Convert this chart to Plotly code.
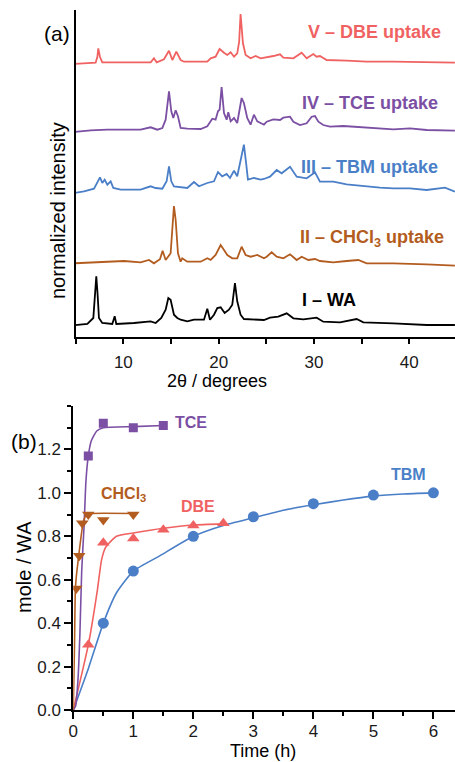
import plotly.graph_objects as go

W, H = 455, 762

# ---------------- panel (a): XRD patterns (stacked, offset included) ----------------
wa_2theta = [4.82, 6.22, 6.85, 7.02, 7.16, 7.30, 7.44, 7.79, 8.84, 9.09, 9.26, 11.12, 12.86, 13.39,
             13.98, 14.44, 14.72, 14.96, 15.31, 15.66, 16.01, 16.71, 17.41, 18.46, 18.81, 19.09,
             19.51, 19.86, 20.21, 20.63, 21.08, 21.43, 21.71, 21.95, 22.30, 22.65, 24.05, 24.75,
             25.39, 26.26, 27.14, 27.84, 28.89, 30.28, 30.98, 32.73, 34.48, 35.18, 38.33, 40.07,
             41.82, 44.79]
wa_int = [11.7, 13, 19, 42.3, 60.7, 42.3, 19, 14, 13, 20.7, 13, 14, 15.7, 14,
          19, 27.3, 39, 37.3, 22.3, 19, 17.3, 15.7, 17.3, 17.3, 28.3, 17.3,
          22.3, 29, 29.7, 24, 27.3, 32.3, 54, 35.7, 22.3, 18, 17.3, 17,
          19.3, 20.3, 23.7, 18.7, 17.7, 19.3, 15.3, 14.7, 18, 14.7, 13.7, 12.7,
          12, 12]

chcl3_2theta = [4.82, 6.57, 8.32, 10.07, 11.81, 12.69, 13.21, 13.84, 14.12, 14.44, 14.96, 15.21,
                15.31, 15.49, 15.73, 16.01, 16.18, 16.71, 18.11, 18.81, 19.16, 19.68, 20.21, 20.56,
                20.91, 21.43, 21.95, 22.41, 22.83, 23.35, 24.05, 24.75, 25.04, 25.56, 26.09, 26.79,
                27.49, 28.19, 28.71, 29.41, 30.11, 30.63, 32.03, 33.43, 34.65, 35.53, 38.33, 41.82,
                44.79]
chcl3_int = [73.7, 74.7, 75.3, 76, 74.7, 77, 73.7, 77.7, 86.3, 77, 83.7, 117,
             131, 117, 83.7, 75.3, 78.7, 75.3, 75.3, 78.7, 77, 82, 92, 87,
             82, 78.7, 78.7, 90.3, 82, 80.3, 82, 78.7, 80.3, 84.7, 80.3, 78.7,
             82.7, 77, 80.3, 77, 78, 76, 74.7, 76, 77, 73.7, 73.7, 72.7,
             71.3]

tbm_2theta = [4.82, 5.87, 6.92, 7.27, 7.55, 7.79, 8.04, 8.32, 8.67, 8.95, 9.72, 11.81, 12.86,
              13.39, 14.09, 14.54, 14.79, 15.03, 15.31, 16.71, 17.41, 17.93, 18.81, 19.51, 19.93,
              20.38, 20.84, 21.19, 21.61, 21.95, 22.30, 22.65, 22.90, 23.07, 23.70, 24.40, 24.75,
              25.39, 26.09, 26.61, 27.49, 28.19, 29.24, 30.11, 30.63, 32.03, 33.43, 34.83, 35.88,
              36.93, 38.33, 40.07, 41.82, 43.75, 44.79]
tbm_int = [144, 145.7, 148.3, 154, 159.7, 154, 157.3, 152.3, 155.7, 149, 147.3, 147.3, 150.7,
           149, 148.3, 155.7, 170.7, 155.7, 150.7, 149, 155, 150.7, 154, 155.7, 165,
           160.7, 163, 159, 166.3, 160.7, 177.3, 192.3, 172.3, 157.3, 159, 157.3, 158,
           160.3, 167, 163.7, 170.3, 160.3, 158.7, 164.7, 155.3, 155.3, 152.7, 151.3, 150.3,
           149.3, 148.7, 148.7, 147, 149.3, 145.3]

tce_2theta = [4.82, 6.57, 8.32, 11.81, 12.86, 13.56, 14.09, 14.44, 14.79, 15.03, 15.24, 15.49,
              15.73, 16.01, 16.71, 18.11, 18.81, 19.33, 19.68, 19.93, 20.10, 20.31, 20.56, 20.84,
              21.01, 21.26, 21.61, 21.95, 22.41, 22.65, 23.00, 23.35, 23.70, 24.05, 24.75, 25.04,
              25.74, 26.44, 26.79, 27.49, 27.84, 28.54, 29.24, 29.76, 30.11, 30.46, 30.98, 31.68,
              33.08, 34.83, 38.33, 40.07, 41.82, 44.79]
tce_int = [205, 206.7, 207.3, 207.3, 209.7, 207.3, 209, 217.3, 245.7, 225.7, 219, 226.7,
           220.7, 209, 208.3, 208, 210.7, 218.3, 217.3, 225.7, 227.3, 250, 224, 217.3,
           224.7, 215.7, 219, 214, 239, 234, 219, 212.3, 222.3, 215.7, 212.3, 215.3,
           217.7, 217, 219.3, 220.3, 215.3, 212, 213.7, 220.3, 221, 215.3, 212, 210.3,
           211, 209.7, 207.7, 208.7, 207, 206.3]

dbe_2theta = [4.82, 6.22, 7.09, 7.27, 7.37, 7.55, 7.79, 10.0, 12.87, 13.21, 13.5, 14.26, 14.79,
              15.14, 15.56, 16.01, 16.36, 18.81, 19.16, 19.68, 20.10, 20.56, 20.91, 21.26, 21.61,
              21.95, 22.15, 22.30, 22.45, 22.55, 22.83, 23.35, 23.88, 24.40, 25.74, 26.44, 26.79,
              27.84, 28.71, 29.24, 29.93, 30.28, 30.63, 31.33, 33.43, 35.53, 38.33, 41.82, 44.79]
dbe_int = [273, 273.7, 274.3, 280, 288.7, 280, 274.7, 274.7, 274.7, 278.7, 274.7, 277.7, 286.3,
           277, 285.3, 277, 275.3, 275.3, 278.7, 280.3, 288, 284.3, 282, 284.7, 280.3,
           283.7, 295, 323, 300, 293.7, 282, 278.7, 281, 278.7, 281, 282.7, 279.3,
           278.7, 284.3, 278.7, 283, 280.3, 281, 277, 276.3, 275.3, 275.3, 274.7, 274.3]

xrd_labels = ["I – WA", "II – CHCl<sub>3</sub> uptake", "III – TBM uptake",
              "IV – TCE uptake", "V – DBE uptake"]

# ---------------- panel (b): uptake kinetics ----------------
tce_t = [0.25, 0.5, 1.0, 1.5]
tce_v = [1.17, 1.32, 1.30, 1.31]
tce_fit_t = [0.0, 0.04, 0.08, 0.11, 0.14, 0.18, 0.21, 0.25, 0.30, 0.39, 0.5, 1.0, 1.5]
tce_fit_v = [0.0, 0.02, 0.15, 0.35, 0.64, 0.85, 1.05, 1.17, 1.24, 1.285, 1.30, 1.305, 1.31]

chcl3_t = [0.05, 0.1, 0.15, 0.25, 0.5, 1.0]
chcl3_v = [0.56, 0.71, 0.86, 0.90, 0.875, 0.90]
chcl3_fit_t = [0.0, 0.02, 0.035, 0.06, 0.09, 0.13, 0.17, 0.22, 0.3, 1.0]
chcl3_fit_v = [0.0, 0.30, 0.56, 0.64, 0.71, 0.80, 0.87, 0.90, 0.905, 0.905]

dbe_t = [0.25, 0.5, 1.0, 1.5, 2.0, 2.5]
dbe_v = [0.30, 0.77, 0.79, 0.83, 0.85, 0.86]
dbe_fit_t = [0.0, 0.25, 0.4, 0.47, 0.54, 0.72, 1.0, 1.5, 2.0, 2.5]
dbe_fit_v = [0.0, 0.30, 0.55, 0.69, 0.75, 0.80, 0.815, 0.837, 0.852, 0.857]

tbm_t = [0.5, 1.0, 2.0, 3.0, 4.0, 5.0, 6.0]
tbm_v = [0.40, 0.64, 0.80, 0.89, 0.95, 0.99, 1.00]
tbm_fit_t = [0.0, 0.25, 0.5, 0.72, 1.0, 1.44, 2.0, 2.5, 3.0, 3.5, 4.0, 4.5, 5.0, 5.5, 6.0]
tbm_fit_v = [0.0, 0.19, 0.40, 0.54, 0.64, 0.71, 0.80, 0.85, 0.885, 0.92, 0.945, 0.967, 0.985, 0.995, 1.0]

# ---------------- styling ----------------
C_DBE = "#f06262"
C_TCE = "#7b4fa3"
C_TBM = "#4a7fc8"
C_CHCL3 = "#b35c20"
C_WA = "#000000"
FONT = "Liberation Sans, Arial, sans-serif"


def px(x):
    return x / W


def py(y):
    return 1 - y / H


fig = go.Figure()

for xs, ys, c in [(wa_2theta, wa_int, C_WA), (chcl3_2theta, chcl3_int, C_CHCL3),
                  (tbm_2theta, tbm_int, C_TBM), (tce_2theta, tce_int, C_TCE),
                  (dbe_2theta, dbe_int, C_DBE)]:
    fig.add_trace(go.Scatter(x=xs, y=ys, mode="lines", line=dict(color=c, width=1.8),
                             xaxis="x", yaxis="y", hoverinfo="skip"))

for ft, fv, t, v, c, sym in [(tbm_fit_t, tbm_fit_v, tbm_t, tbm_v, C_TBM, "circle"),
                             (dbe_fit_t, dbe_fit_v, dbe_t, dbe_v, C_DBE, "triangle-up"),
                             (tce_fit_t, tce_fit_v, tce_t, tce_v, C_TCE, "square"),
                             (chcl3_fit_t, chcl3_fit_v, chcl3_t, chcl3_v, C_CHCL3, "triangle-down")]:
    fig.add_trace(go.Scatter(x=ft, y=fv, mode="lines",
                             line=dict(color=c, width=1.6, shape="spline", smoothing=0.5),
                             xaxis="x2", yaxis="y2"))
    fig.add_trace(go.Scatter(x=t, y=v, mode="markers",
                             marker=dict(color=c, symbol=sym, size=11 if sym != "square" else 9,
                                         line=dict(width=0)),
                             xaxis="x2", yaxis="y2"))

axis_common = dict(showline=True, linewidth=2, linecolor="black", showgrid=False, zeroline=False,
                   ticks="outside", tickcolor="black", tickwidth=1.5,
                   tickfont=dict(family=FONT, size=17, color="#1a1a1a"), automargin=False)

fig.update_layout(
    width=W, height=H, margin=dict(l=0, r=0, t=0, b=0),
    plot_bgcolor="white", paper_bgcolor="white", showlegend=False,
    xaxis=dict(domain=[px(75.7), 1.0], range=[5, 44.8], anchor="y",
               tickmode="array", tickvals=[10, 20, 30, 40], ticklen=5, ticklabelstandoff=4,
               minor=dict(tick0=0, dtick=5, ticklen=5, ticks="outside", tickcolor="black", showgrid=False),
               **axis_common),
    yaxis=dict(domain=[py(337), py(10)], range=[0, 327], anchor="x",
               showticklabels=False, **{k: v for k, v in axis_common.items() if k != "ticks"}, ticks=""),
    xaxis2=dict(domain=[px(73.3), 1.0], range=[0, 6.36], anchor="y2",
                tickmode="array", tickvals=[0, 1, 2, 3, 4, 5, 6], ticklen=7, ticklabelstandoff=-2,
                minor=dict(tick0=0, dtick=0.5, ticklen=4, ticks="outside", tickcolor="black", showgrid=False),
                **axis_common),
    yaxis2=dict(domain=[py(710), py(406)], range=[0, 1.4], anchor="x2",
                tickmode="array", tickvals=[0, 0.2, 0.4, 0.6, 0.8, 1.0, 1.2],
                ticktext=["0.0", "0.2", "0.4", "0.6", "0.8", "1.0", "1.2"], ticklen=7,
                minor=dict(tick0=0, dtick=0.1, ticklen=4, ticks="outside", tickcolor="black", showgrid=False),
                **axis_common),
)

ann = []


def add_text(text, x, y, size, color="black", bold=False, xanchor="center", angle=0):
    t = f"<b>{text}</b>" if bold else text
    ann.append(dict(text=t, x=px(x), y=py(y), xref="paper", yref="paper", showarrow=False,
                    xanchor=xanchor, yanchor="middle", textangle=angle,
                    font=dict(family=FONT, size=size, color=color)))


# panel (a) labels
label_pos = [(358, 300, C_WA), (446, 238, C_CHCL3), (440, 167, C_TBM), (440, 103, C_TCE), (443, 32, C_DBE)]
for lab, (x, y, c) in zip(xrd_labels, label_pos):
    add_text(lab, x, y, 18, c, bold=True, xanchor="right")
add_text("(a)", 57, 33, 21)
add_text("normalized intensity", 58, 210, 20, angle=-90)
add_text("2θ / degrees", 217, 381, 18)

# panel (b) labels
add_text("(b)", 24, 441, 21)
add_text("TCE", 191, 422, 16, C_TCE, bold=True)
add_text("CHCl<sub>3</sub>", 124, 495, 16, C_CHCL3, bold=True)
add_text("DBE", 198, 506, 16, C_DBE, bold=True)
add_text("TBM", 408, 474, 16, C_TBM, bold=True)
add_text("mole / WA", 24, 567, 20, angle=-90)
add_text("Time (h)", 263, 751, 18)

fig.update_layout(annotations=ann)
fig.write_html("out.html", config={"displayModeBar": False},
               post_script="document.body.style.margin='0px';document.body.style.overflow='hidden';")
